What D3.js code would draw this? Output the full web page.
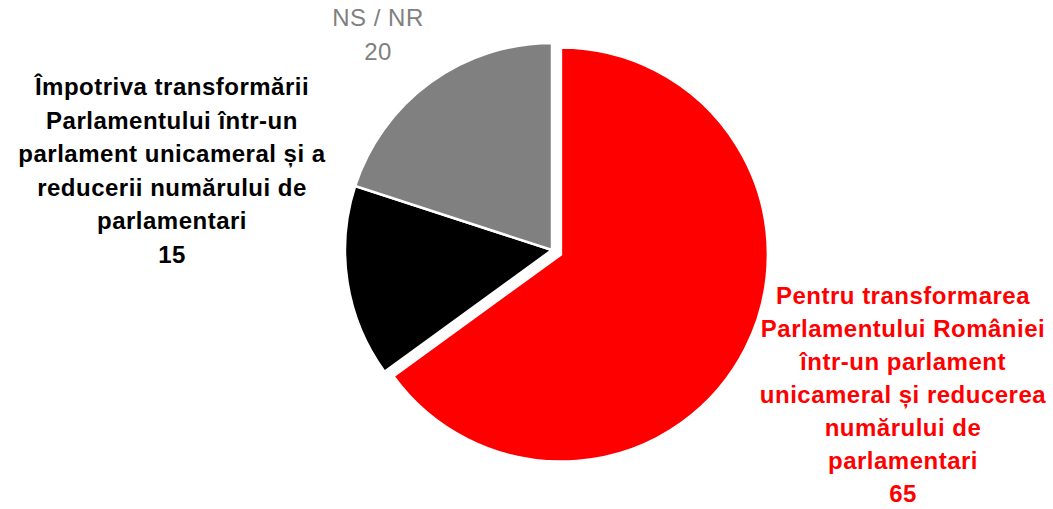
<!DOCTYPE html>
<html><head><meta charset="utf-8">
<script src="https://cdn.jsdelivr.net/npm/d3@7"></script>
<style>body{margin:0;background:#fff}svg{display:block}</style>
</head><body>
<svg id="c" width="1053" height="509"></svg>
<script>
const categories = ["Pentru", "Impotriva", "NSNR"];
const values = [65, 15, 20];
const labelLines = [
  ["Pentru transformarea", "Parlamentului României", "într-un parlament", "unicameral și reducerea", "numărului de", "parlamentari"],
  ["Împotriva transformării", "Parlamentului într-un", "parlament unicameral și a", "reducerii numărului de", "parlamentari"],
  ["NS / NR"]
];
const colors = ["#ff0000", "#000000", "#808080"];
const weights = ["bold", "bold", "normal"];
const labelPos = [[903, 296], [172, 87], [378, 18]];
const lineHeights = [33, 33.5, 34];
const explode = [10, 0, 0];

const svg = d3.select("#c");
const cx = 552, cy = 250, r = 207;
const pie = d3.pie().sort(null).value(d => d)(values);
const arc = d3.arc().innerRadius(0).outerRadius(r);
const g = svg.append("g").attr("transform", `translate(${cx},${cy})`);
g.selectAll("path").data(pie).join("path")
  .attr("d", arc)
  .attr("fill", (d, i) => colors[i])
  .attr("stroke", "#fff").attr("stroke-width", 2.5).attr("stroke-linejoin", "miter")
  .attr("transform", (d, i) => {
    const a = (d.startAngle + d.endAngle) / 2;
    return `translate(${Math.sin(a) * explode[i]},${-Math.cos(a) * explode[i]})`;
  });

labelLines.forEach((lines, i) => {
  const t = svg.append("text")
    .attr("text-anchor", "middle")
    .attr("fill", colors[i])
    .attr("font-family", "Liberation Sans, Arial, sans-serif")
    .attr("font-size", 24)
    .attr("letter-spacing", "0.5px")
    .attr("font-weight", weights[i]);
  lines.concat([String(values[i])]).forEach((s, k) => {
    t.append("tspan").attr("x", labelPos[i][0]).attr("y", labelPos[i][1] + k * lineHeights[i])
      .attr("dy", "0.35em").text(s);
  });
});
</script>
</body></html>
